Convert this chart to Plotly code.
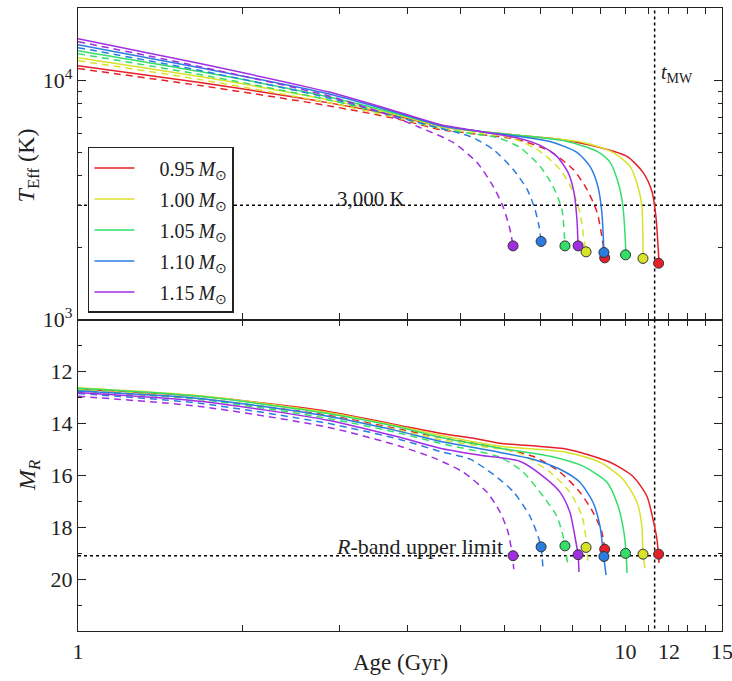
import plotly.graph_objects as go

# ---------------- data ----------------
masses = ["0.95", "1.00", "1.05", "1.10", "1.15"]

# Top panel: effective temperature (K) vs age (Gyr) -- solid-line models
s095_age_T = [1.00, 1.67, 2.86, 3.87, 4.58, 5.42, 6.41, 7.59, 8.98, 10.06, 10.76, 11.17, 11.36, 11.51]
s095_T = [11490, 9763, 8050, 7046, 6402, 6100, 5870, 5649, 5233, 4800, 4117, 3430, 2699, 1719]
s100_age_T = [1.00, 1.67, 2.86, 3.87, 4.58, 5.42, 6.41, 8.36, 9.48, 10.19, 10.53, 10.71, 10.76]
s100_T = [12410, 10340, 8280, 7113, 6402, 6100, 5870, 5490, 4988, 4360, 3599, 2971, 1804]
s105_age_T = [1.00, 1.67, 2.86, 3.87, 4.58, 5.42, 6.41, 7.82, 8.87, 9.37, 9.69, 9.89, 10.02]
s105_T = [13270, 10850, 8520, 7182, 6464, 6100, 5870, 5542, 5036, 4532, 3740, 2971, 1857]
s110_age_T = [1.00, 1.67, 2.86, 3.87, 4.58, 5.42, 6.41, 7.28, 8.15, 8.61, 8.90, 9.05, 9.13]
s110_T = [14060, 11270, 8760, 7251, 6464, 6100, 5814, 5542, 4988, 4360, 3599, 2805, 1911]
s115_age_T = [1.00, 1.67, 2.86, 3.87, 4.58, 5.42, 6.41, 6.98, 7.49, 7.85, 8.05, 8.15, 8.19]
s115_T = [14890, 11720, 8930, 7321, 6527, 6100, 5704, 5334, 4800, 4117, 3398, 2622, 2024]

# Top panel -- dashed-line models
d095_age_T = [1.00, 1.67, 2.86, 3.87, 4.58, 5.42, 6.34, 7.28, 8.02, 8.50, 8.87, 9.05, 9.17]
d095_T = [11170, 9487, 7820, 6846, 6221, 5927, 5649, 5036, 4237, 3497, 2805, 2228, 1804]
d100_age_T = [1.00, 1.67, 2.86, 3.87, 4.58, 5.42, 6.15, 6.89, 7.59, 7.98, 8.25, 8.43, 8.47]
d100_T = [12060, 10050, 8050, 6912, 6281, 5984, 5759, 5133, 4237, 3497, 2805, 2024, 1911]
d105_age_T = [1.00, 1.67, 2.86, 3.87, 4.58, 5.20, 5.82, 6.41, 6.98, 7.37, 7.65, 7.75]
d105_T = [12890, 10540, 8280, 6979, 6281, 5984, 5759, 5233, 4360, 3599, 2887, 2024]
d110_age_T = [1.00, 1.67, 2.86, 3.87, 4.52, 5.20, 5.73, 6.23, 6.61, 6.83, 6.95, 7.01]
d110_T = [13660, 10960, 8440, 6979, 6341, 5814, 5133, 4237, 3497, 2887, 2452, 2124]
d115_age_T = [1.00, 1.67, 2.86, 3.67, 4.21, 4.84, 5.35, 5.73, 5.97, 6.15, 6.23]
d115_T = [14470, 11380, 8600, 7182, 6341, 5490, 4532, 3599, 2971, 2382, 2024]

# Bottom panel: absolute R magnitude vs age -- solid-line models
s095_age_M = [1.00, 1.67, 2.86, 3.87, 4.58, 5.42, 5.90, 7.82, 9.37, 10.31, 10.94, 11.22, 11.41, 11.51]
s095_M = [12.69, 12.96, 13.54, 14.08, 14.38, 14.62, 14.77, 15.00, 15.50, 16.04, 16.81, 17.69, 18.46, 19.38]
s100_age_M = [1.00, 1.67, 2.86, 3.87, 4.58, 5.90, 7.82, 8.98, 9.89, 10.49, 10.71, 10.76, 10.85]
s100_M = [12.63, 12.94, 13.58, 14.12, 14.46, 14.88, 15.12, 15.50, 16.15, 17.04, 17.96, 19.04, 19.58]
s105_age_M = [1.00, 1.67, 2.86, 3.87, 4.58, 5.90, 7.28, 8.36, 9.25, 9.69, 9.93, 10.02, 10.06]
s105_M = [12.65, 12.96, 13.62, 14.15, 14.54, 14.96, 15.27, 15.65, 16.27, 17.19, 18.19, 19.00, 19.77]
s110_age_M = [1.00, 1.67, 2.86, 3.87, 4.58, 5.90, 6.77, 7.59, 8.25, 8.72, 8.98, 9.09, 9.21]
s110_M = [12.75, 13.04, 13.73, 14.31, 14.69, 15.12, 15.38, 15.77, 16.27, 17.04, 17.96, 18.85, 19.85]
s115_age_M = [1.00, 1.67, 2.86, 3.87, 4.58, 5.42, 6.41, 7.07, 7.59, 7.91, 8.08, 8.19, 8.22]
s115_M = [12.81, 13.15, 13.88, 14.54, 14.96, 15.23, 15.46, 16.04, 16.65, 17.42, 18.35, 19.08, 19.73]

# Bottom panel -- dashed-line models
d095_age_M = [1.00, 1.67, 2.86, 3.87, 4.58, 5.42, 6.77, 7.59, 8.25, 8.72, 9.05, 9.17, 9.25]
d095_M = [12.75, 13.06, 13.69, 14.23, 14.54, 14.81, 15.27, 15.88, 16.65, 17.42, 18.19, 18.85, 19.31]
d100_age_M = [1.00, 1.67, 2.86, 3.87, 4.58, 5.42, 6.34, 7.28, 7.91, 8.33, 8.47, 8.54]
d100_M = [12.69, 13.04, 13.73, 14.27, 14.62, 14.88, 15.12, 15.88, 16.65, 17.58, 18.46, 19.38]
d105_age_M = [1.00, 1.67, 2.86, 3.87, 4.58, 5.90, 6.50, 7.07, 7.49, 7.69, 7.75, 7.85]
d105_M = [12.73, 13.08, 13.81, 14.38, 14.77, 15.31, 15.88, 16.81, 17.58, 18.35, 18.73, 19.50]
d110_age_M = [1.00, 1.67, 2.86, 3.87, 4.58, 5.20, 5.73, 6.23, 6.69, 6.92, 7.01, 7.07]
d110_M = [12.85, 13.23, 14.00, 14.62, 15.08, 15.38, 15.96, 16.62, 17.58, 18.35, 18.77, 19.69]
d115_age_M = [1.00, 1.67, 2.86, 3.87, 4.52, 5.05, 5.58, 5.90, 6.10, 6.20, 6.25]
d115_M = [12.96, 13.35, 14.15, 14.88, 15.38, 15.88, 16.65, 17.42, 18.19, 18.96, 19.62]

# End-point dots (order: 0.95, 1.00, 1.05, 1.10, 1.15)
dot_solid_age = [11.49, 10.76, 10.00, 9.13, 8.19]
dot_solid_T = [1718, 1799, 1862, 1905, 2030]
dot_solid_M = [19.04, 19.04, 19.01, 19.13, 19.06]
dot_dashed_age = [9.16, 8.47, 7.75, 7.01, 6.23]
dot_dashed_T = [1809, 1917, 2030, 2118, 2030]
dot_dashed_M = [18.85, 18.78, 18.72, 18.76, 19.10]

# Reference levels
t_mw = 11.3
teff_limit = 3000
r_limit = 19.1

x_ticks = [1, 2, 3, 4, 5, 6, 7, 8, 9, 10, 11, 12, 13, 14, 15]
x_ticklabels = ["1", "", "", "", "", "", "", "", "", "10", "", "12", "", "", "15"]

# ---------------- styling ----------------
colors = ["#e6202a", "#d8e22a", "#33df68", "#2a7be2", "#a12ee0"]
FONT = "Liberation Serif"
TXT = "#222222"

top_solid = [(s095_age_T, s095_T), (s100_age_T, s100_T), (s105_age_T, s105_T),
             (s110_age_T, s110_T), (s115_age_T, s115_T)]
top_dashed = [(d095_age_T, d095_T), (d100_age_T, d100_T), (d105_age_T, d105_T),
              (d110_age_T, d110_T), (d115_age_T, d115_T)]
bot_solid = [(s095_age_M, s095_M), (s100_age_M, s100_M), (s105_age_M, s105_M),
             (s110_age_M, s110_M), (s115_age_M, s115_M)]
bot_dashed = [(d095_age_M, d095_M), (d100_age_M, d100_M), (d105_age_M, d105_M),
              (d110_age_M, d110_M), (d115_age_M, d115_M)]

fig = go.Figure()

# reference dotted lines
dot_line = dict(color="black", width=1.5, dash="dot")
fig.add_trace(go.Scatter(x=[1, 15], y=[teff_limit, teff_limit], mode="lines", line=dot_line,
                         xaxis="x", yaxis="y", showlegend=False, hoverinfo="skip"))
fig.add_trace(go.Scatter(x=[t_mw, t_mw], y=[1000, 20000], mode="lines", line=dot_line,
                         xaxis="x", yaxis="y", showlegend=False, hoverinfo="skip"))
fig.add_trace(go.Scatter(x=[1, 15], y=[r_limit, r_limit], mode="lines", line=dot_line,
                         xaxis="x2", yaxis="y2", showlegend=False, hoverinfo="skip"))
fig.add_trace(go.Scatter(x=[t_mw, t_mw], y=[10, 22], mode="lines", line=dot_line,
                         xaxis="x2", yaxis="y2", showlegend=False, hoverinfo="skip"))

DASH = "7px,5px"
for i, m in enumerate(masses):
    c = colors[i]
    name = f"\u2003{m}\u2009<i>M</i><sub>\u2299</sub>"
    fig.add_trace(go.Scatter(x=top_dashed[i][0], y=top_dashed[i][1], mode="lines",
                             line=dict(color=c, width=1.5, dash=DASH, shape="spline", smoothing=0.7),
                             xaxis="x", yaxis="y", showlegend=False, legendgroup=f"g{i}"))
    fig.add_trace(go.Scatter(x=bot_dashed[i][0], y=bot_dashed[i][1], mode="lines",
                             line=dict(color=c, width=1.5, dash=DASH, shape="spline", smoothing=0.7),
                             xaxis="x2", yaxis="y2", showlegend=False, legendgroup=f"g{i}"))
    fig.add_trace(go.Scatter(x=top_solid[i][0], y=top_solid[i][1], mode="lines",
                             line=dict(color=c, width=1.5, shape="spline", smoothing=0.7),
                             xaxis="x", yaxis="y", name=name, legendgroup=f"g{i}", showlegend=True))
    fig.add_trace(go.Scatter(x=bot_solid[i][0], y=bot_solid[i][1], mode="lines",
                             line=dict(color=c, width=1.5, shape="spline", smoothing=0.7),
                             xaxis="x2", yaxis="y2", showlegend=False, legendgroup=f"g{i}"))

mk = dict(color=colors, size=10, line=dict(color="#333333", width=1))
fig.add_trace(go.Scatter(x=dot_dashed_age, y=dot_dashed_T, mode="markers", marker=mk,
                         xaxis="x", yaxis="y", showlegend=False))
fig.add_trace(go.Scatter(x=dot_solid_age, y=dot_solid_T, mode="markers", marker=mk,
                         xaxis="x", yaxis="y", showlegend=False))
fig.add_trace(go.Scatter(x=dot_dashed_age, y=dot_dashed_M, mode="markers", marker=mk,
                         xaxis="x2", yaxis="y2", showlegend=False))
fig.add_trace(go.Scatter(x=dot_solid_age, y=dot_solid_M, mode="markers", marker=mk,
                         xaxis="x2", yaxis="y2", showlegend=False))

axis_common = dict(showline=True, linecolor="#222222", linewidth=1.2, mirror="ticks",
                   ticks="inside", tickcolor="#222222", showgrid=False, zeroline=False,
                   ticklabeloverflow="allow", automargin=False,
                   tickfont=dict(family=FONT, size=22, color=TXT))

fig.update_layout(
    width=732, height=681,
    margin=dict(l=78, r=10, t=8, b=50, autoexpand=False),
    paper_bgcolor="white", plot_bgcolor="white",
    font=dict(family=FONT, size=18, color=TXT),
    xaxis=dict(type="log", range=[0, 1.1761], domain=[0, 1], anchor="y",
               tickvals=x_ticks, ticktext=[""] * len(x_ticks), ticklen=6, **axis_common),
    xaxis2=dict(type="log", range=[0, 1.1761], domain=[0, 1], anchor="y2",
                tickvals=x_ticks, ticktext=x_ticklabels, ticklen=6, **axis_common),
    yaxis=dict(type="log", range=[3, 4.301], domain=[0.5, 1], anchor="x",
               tickvals=[1000, 10000], ticktext=["10<sup>3</sup>", "10<sup>4</sup>"], ticklen=8,
               minor=dict(tickmode="array", tickvals=[2000, 3000, 4000, 5000, 6000, 7000, 8000, 9000],
                          ticks="inside", ticklen=4, tickcolor="#222222"),
               **axis_common),
    yaxis2=dict(range=[22, 10], domain=[0, 0.5], anchor="x2",
                tickvals=[12, 14, 16, 18, 20], ticklen=8,
                minor=dict(tickmode="array", tickvals=[11, 13, 15, 17, 19, 21],
                           ticks="inside", ticklen=4, tickcolor="#222222"),
                **axis_common),
    legend=dict(x=0.0155, y=0.777, xanchor="left", yanchor="top", bgcolor="white",
                bordercolor="#222222", borderwidth=1.5, traceorder="grouped", tracegroupgap=2,
                font=dict(family=FONT, size=20, color=TXT), itemwidth=40),
    annotations=[
        dict(text="3,000 K", xref="paper", yref="paper", x=0.455, y=0.694, showarrow=False,
             xanchor="center", yanchor="middle", font=dict(family=FONT, size=21, color=TXT)),
        dict(text="<i>t</i><sub>MW</sub>", xref="paper", yref="paper", x=0.93, y=0.895,
             showarrow=False, xanchor="center", yanchor="middle",
             font=dict(family=FONT, size=20, color=TXT)),
        dict(text="<i>R</i>-band upper limit", xref="paper", yref="paper", x=0.53, y=0.136,
             showarrow=False, xanchor="center", yanchor="middle",
             font=dict(family=FONT, size=22, color=TXT)),
        dict(text="<i>T</i><sub>Eff</sub> (K)", xref="paper", yref="paper", x=-0.077, y=0.748,
             showarrow=False, textangle=-90, xanchor="center", yanchor="middle",
             font=dict(family=FONT, size=24, color=TXT)),
        dict(text="<i>M</i><sub><i>R</i></sub>", xref="paper", yref="paper", x=-0.075, y=0.25,
             showarrow=False, textangle=-90, xanchor="center", yanchor="middle",
             font=dict(family=FONT, size=24, color=TXT)),
        dict(text="Age (Gyr)", xref="paper", yref="paper", x=0.5, y=-0.05,
             showarrow=False, xanchor="center", yanchor="middle",
             font=dict(family=FONT, size=23, color=TXT)),
    ],
)

fig.write_html("out.html")
